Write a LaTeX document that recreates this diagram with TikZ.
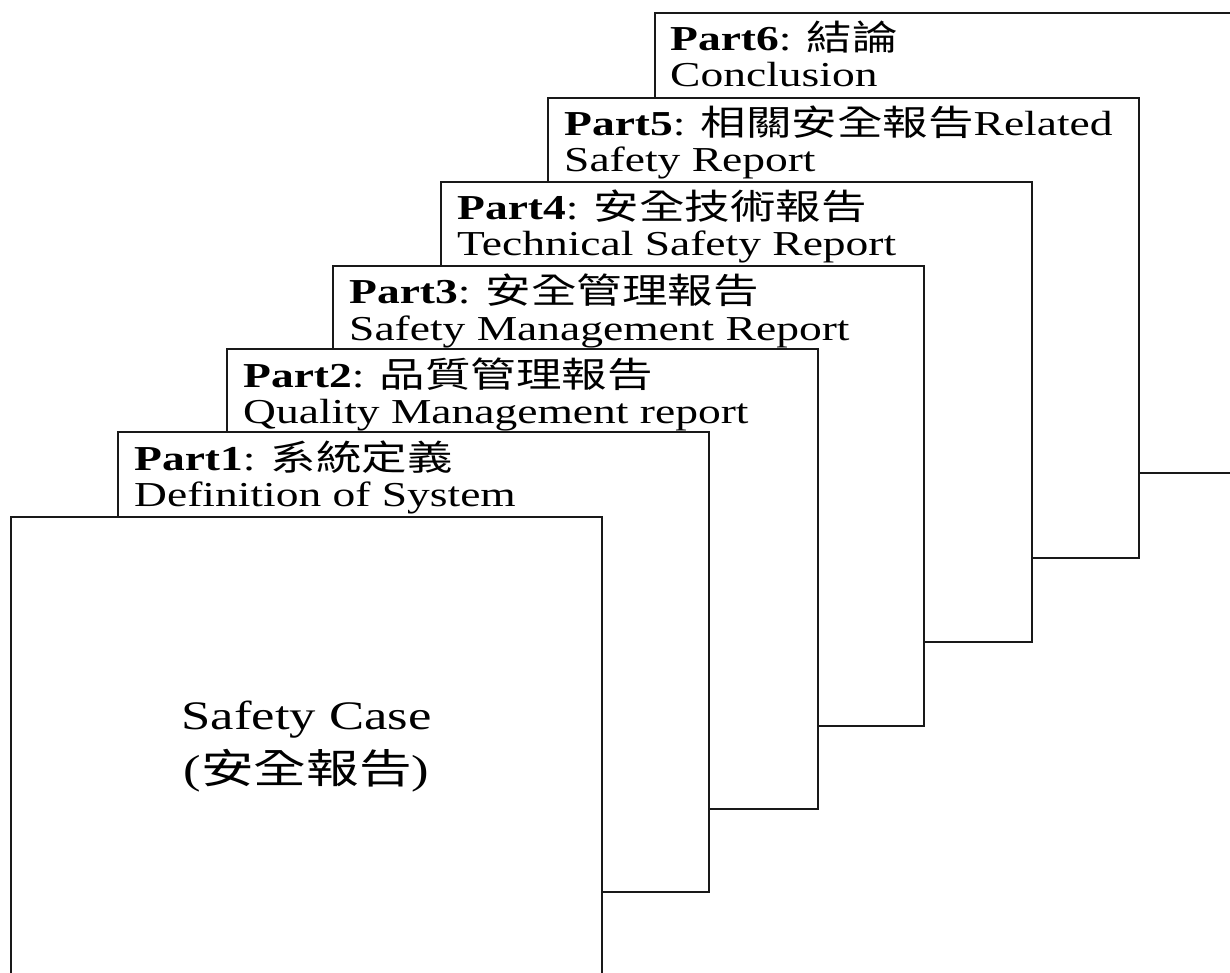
\documentclass[tikz,border=0pt]{standalone}
\usepackage{fontspec}
\setmainfont{Liberation Serif}[FakeStretch=1.3]
\newfontfamily\cjk{Noto Sans CJK TC}[FakeStretch=1.3]
\usetikzlibrary{calc}
\begin{document}
\begin{tikzpicture}[x=1pt,y=-1pt,
  sheet/.style={draw=black!90, line width=1.9pt, fill=white, rectangle,
    inner sep=0pt, minimum width=591pt, minimum height=460pt, anchor=north west},
  title/.style={anchor=base west, inner sep=0pt, font=\fontsize{35}{36}\selectfont},
  casetext/.style={anchor=base, inner sep=0pt, font=\fontsize{40.5}{54}\selectfont}]
\useasboundingbox (0,0) rectangle (1230,973);
\clip (0,0) rectangle (1230,973);

% sheets, back to front
\node[sheet] (s6) at (654,12) {};
\node[title] (t6a) at ([shift={(16,39)}]s6.north west) {\textbf{Part6}: {\cjk 結論}};
\node[title] (t6b) at ([shift={(16,75)}]s6.north west) {Conclusion};

\node[sheet] (s5) at (547,97) {};
\node[title] (t5a) at ([shift={(17,39)}]s5.north west) {\textbf{Part5}: {\cjk 相關安全報告}Related};
\node[title] (t5b) at ([shift={(17,75)}]s5.north west) {Safety Report};

\node[sheet] (s4) at (440,181) {};
\node[title] (t4a) at ([shift={(17,39)}]s4.north west) {\textbf{Part4}: {\cjk 安全技術報告}};
\node[title] (t4b) at ([shift={(17,75)}]s4.north west) {Technical Safety Report};

\node[sheet] (s3) at (332,265) {};
\node[title] (t3a) at ([shift={(17,39)}]s3.north west) {\textbf{Part3}: {\cjk 安全管理報告}};
\node[title] (t3b) at ([shift={(17,75)}]s3.north west) {Safety Management Report};

\node[sheet] (s2) at (226,348) {};
\node[title] (t2a) at ([shift={(17,39)}]s2.north west) {\textbf{Part2}: {\cjk 品質管理報告}};
\node[title] (t2b) at ([shift={(17,75)}]s2.north west) {Quality Management report};

\node[sheet] (s1) at (117,431) {};
\node[title] (t1a) at ([shift={(17,39)}]s1.north west) {\textbf{Part1}: {\cjk 系統定義}};
\node[title] (t1b) at ([shift={(17,75)}]s1.north west) {Definition of System};

\node[sheet] (s0) at (10,516) {};
\node[casetext] (c0a) at ([shift={(0,213)}]s0.north) {Safety Case};
\node[casetext] (c0b) at ([shift={(0,267)}]s0.north) {({\cjk 安全報告})};
\end{tikzpicture}
\end{document}
